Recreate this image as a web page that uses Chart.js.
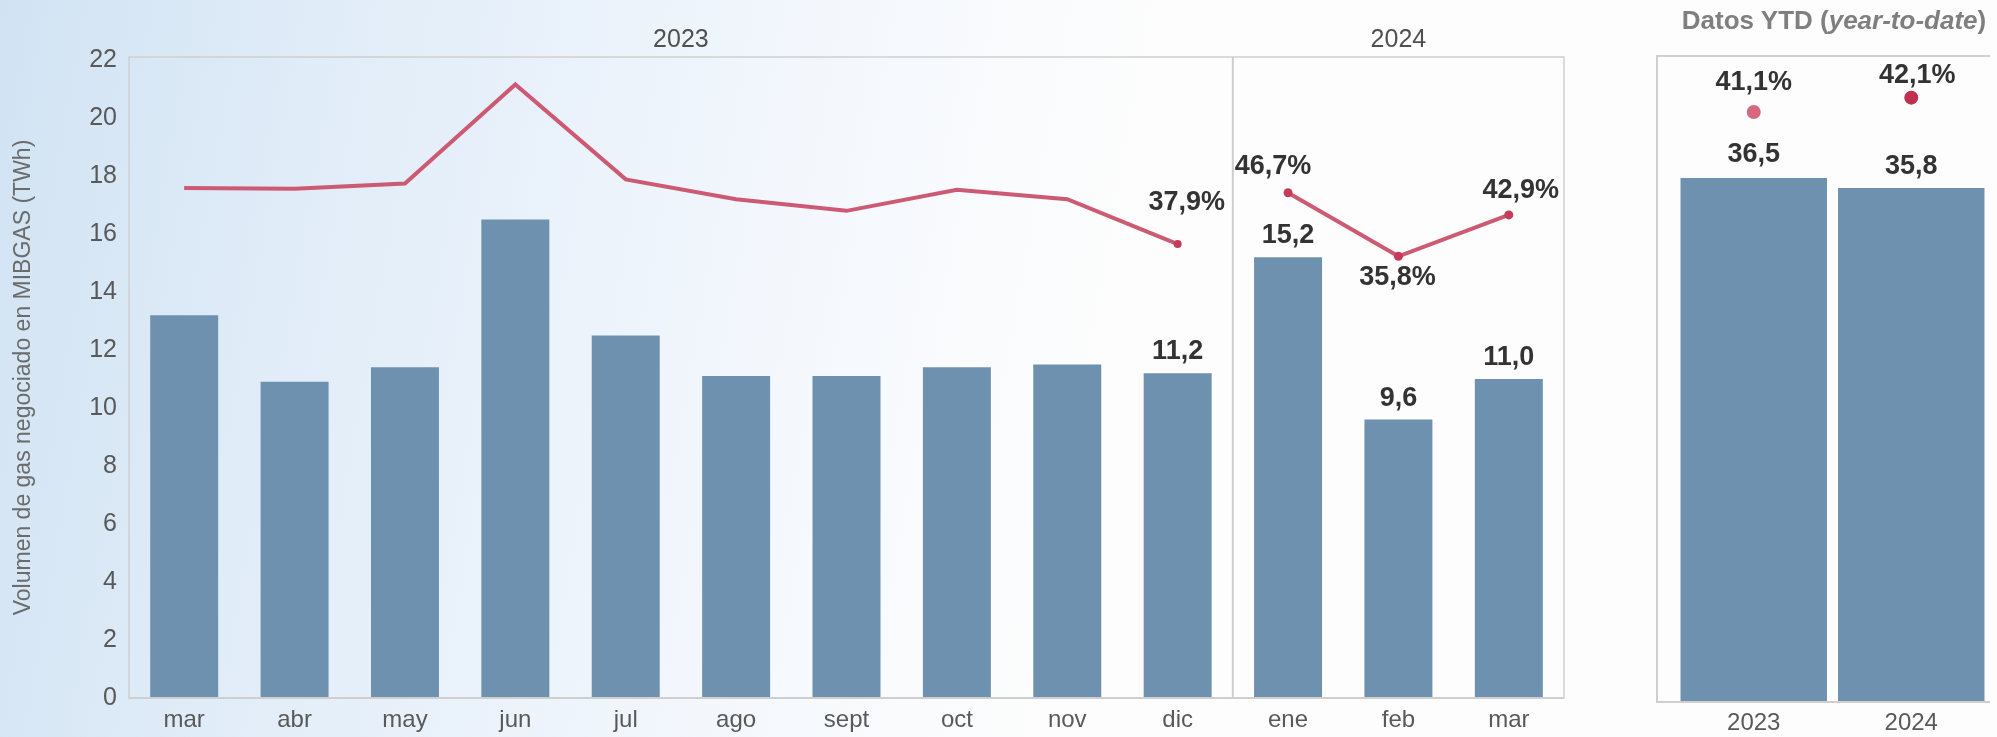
<!DOCTYPE html>
<html lang="es">
<head>
<meta charset="utf-8">
<title>Volumen de gas negociado en MIBGAS</title>
<script src="https://cdn.jsdelivr.net/npm/chart.js@4.4.1/dist/chart.umd.min.js"></script>
<style>
  html, body { margin: 0; padding: 0; }
  body {
    width: 1997px; height: 737px; overflow: hidden; position: relative;
    font-family: "Liberation Sans", Arial, sans-serif;
    background: linear-gradient(100deg, #d1e3f3 0%, #e0ecf8 15%, #ecf3fb 30%, #f6f9fd 43%, #fdfdfd 55%, #fdfdfd 100%);
  }
  #monthly { position: absolute; left: 0; top: 0; }
  #ytd { position: absolute; left: 1600px; top: 0; }
  #ytd-title {
    position: absolute; left: 1634px; top: 0; width: 400px;
    line-height: 40px; text-align: center;
    font-size: 26px; font-weight: bold; color: #7f7f7f;
  }
  #ytd-title i { font-weight: bold; }
</style>
</head>
<body>
<canvas id="monthly" width="1600" height="737"></canvas>
<canvas id="ytd" width="397" height="737"></canvas>
<div id="ytd-title">Datos YTD (<i>year-to-date</i>)</div>

<script>
// ---- data ----
const months     = ['mar', 'abr', 'may', 'jun', 'jul', 'ago', 'sept', 'oct', 'nov', 'dic', 'ene', 'feb', 'mar'];
const volume     = [13.2, 10.9, 11.4, 16.5, 12.5, 11.1, 11.1, 11.4, 11.5, 11.2, 15.2, 9.6, 11.0];
const share2023  = [47.5, 47.4, 48.3, 65.3, 49.0, 45.6, 43.6, 47.2, 45.6, 37.9, null, null, null];
const share2024  = [null, null, null, null, null, null, null, null, null, null, 46.7, 35.8, 42.9];
const yearHeads  = ['2023', '2024'];
const volumeTicks = [0, 2, 4, 6, 8, 10, 12, 14, 16, 18, 20, 22];

const ytdYears   = ['2023', '2024'];
const ytdVolume  = [36.5, 35.8];
const ytdShare   = [41.1, 42.1];

// months that carry data labels / markers, and first month of 2024
const labelledMonths = [9, 10, 11, 12];
const firstOf2024 = 10;

// ---- styles ----
const FONT = '"Liberation Sans", Arial, sans-serif';
const barColor = '#6f91b0';
const lineColor = '#cc5a73';
const pointColor = '#c63b5c';
const frameColor = '#cfcfcf';

const fmt = v => v.toFixed(1).replace('.', ',');

function valueLabels(specs) {
    return {
        id: 'valueLabels',
        afterDatasetsDraw(chart) {
            const ctx = chart.ctx;
            ctx.save();
            ctx.font = 'bold 27px ' + FONT;
            ctx.fillStyle = '#333333';
            ctx.textAlign = 'center';
            ctx.textBaseline = 'middle';
            specs.forEach(s => {
                const el = chart.getDatasetMeta(s.ds).data[s.i];
                const v = chart.data.datasets[s.ds].data[s.i];
                ctx.fillText(fmt(v) + (s.pct ? '%' : ''), el.x + s.dx, el.y + s.dy);
            });
            ctx.restore();
        }
    };
}

/* frame, year divider and year headers of the monthly chart */
const monthlyFrame = {
    id: 'monthlyFrame',
    afterDatasetsDraw(chart) {
        const { ctx, chartArea: a, scales: { x } } = chart;
        const split = (x.getPixelForTick(firstOf2024 - 1) + x.getPixelForTick(firstOf2024)) / 2;
        ctx.save();
        ctx.strokeStyle = frameColor;
        ctx.lineWidth = 1.5;
        ctx.strokeRect(a.left, a.top, a.right - a.left, a.bottom - a.top);
        ctx.lineWidth = 2;
        ctx.beginPath();
        ctx.moveTo(split, a.top);
        ctx.lineTo(split, a.bottom);
        ctx.moveTo(a.left, a.bottom);
        ctx.lineTo(a.right, a.bottom);
        ctx.stroke();
        ctx.font = '25px ' + FONT;
        ctx.fillStyle = '#505050';
        ctx.textAlign = 'center';
        ctx.textBaseline = 'middle';
        ctx.fillText(yearHeads[0], (a.left + split) / 2, 40);
        ctx.fillText(yearHeads[1], (split + a.right) / 2, 40);
        ctx.restore();
    }
};

const ytdFrame = {
    id: 'ytdFrame',
    afterDatasetsDraw(chart) {
        const { ctx, chartArea: a } = chart;
        const left = a.left - 18;
        ctx.save();
        ctx.strokeStyle = frameColor;
        ctx.lineWidth = 2;
        ctx.beginPath();
        ctx.moveTo(a.right, a.top);
        ctx.lineTo(left, a.top);
        ctx.lineTo(left, a.bottom);
        ctx.lineTo(a.right, a.bottom);
        ctx.stroke();
        ctx.restore();
    }
};

// ---- monthly chart ----
new Chart(document.getElementById('monthly'), {
    data: {
        labels: months,
        datasets: [
            {
                type: 'line',
                data: share2023,
                yAxisID: 'y2',
                borderColor: lineColor,
                borderWidth: 4,
                pointRadius: share2023.map((v, i) => labelledMonths.includes(i) ? 4 : 0),
                pointBackgroundColor: pointColor,
                pointBorderWidth: 0,
                order: 1,
            },
            {
                type: 'line',
                data: share2024,
                yAxisID: 'y2',
                borderColor: lineColor,
                borderWidth: 4,
                pointRadius: 4.5,
                pointBackgroundColor: pointColor,
                pointBorderWidth: 0,
                order: 1,
            },
            {
                type: 'bar',
                data: volume,
                yAxisID: 'y',
                backgroundColor: barColor,
                categoryPercentage: 1,
                barPercentage: 0.616,
                order: 2,
            },
        ],
    },
    options: {
        responsive: false,
        animation: false,
        layout: { padding: { top: 57, right: 36, left: 0, bottom: 0 } },
        plugins: { legend: { display: false }, tooltip: { enabled: false } },
        scales: {
            x: {
                grid: { display: false, drawTicks: false },
                border: { display: false },
                ticks: {
                    color: '#595959', font: { family: FONT, size: 24 },
                    padding: 8, autoSkip: false, maxRotation: 0,
                },
                afterFit: axis => { axis.height = 39; },
            },
            y: {
                min: 0, max: 22.1,
                grid: { display: false, drawTicks: false },
                border: { display: false },
                afterBuildTicks: axis => { axis.ticks = volumeTicks.map(v => ({ value: v })); },
                ticks: { color: '#595959', font: { family: FONT, size: 25 }, padding: 12 },
                title: {
                    display: true,
                    text: 'Volumen de gas negociado en MIBGAS (TWh)',
                    color: '#6b6b6b',
                    font: { family: FONT, size: 23 },
                    padding: { top: 10, bottom: 0 },
                },
                afterFit: axis => { axis.width = 129; },
            },
            y2: { display: false, min: -40, max: 70 },
        },
    },
    plugins: [
        monthlyFrame,
        valueLabels([
            { ds: 2, i: 9,  dx: 0, dy: -22 },
            { ds: 2, i: 10, dx: 0, dy: -22 },
            { ds: 2, i: 11, dx: 0, dy: -21 },
            { ds: 2, i: 12, dx: 0, dy: -21 },
            { ds: 0, i: 9,  dx: 9,   dy: -42, pct: true },
            { ds: 1, i: 10, dx: -15, dy: -26, pct: true },
            { ds: 1, i: 11, dx: -1,  dy: 21,  pct: true },
            { ds: 1, i: 12, dx: 12,  dy: -24, pct: true },
        ]),
    ],
});

// ---- YTD chart ----
new Chart(document.getElementById('ytd'), {
    data: {
        labels: ytdYears,
        datasets: [
            {
                type: 'line',
                data: ytdShare,
                showLine: false,
                pointRadius: 7,
                pointBorderWidth: 0,
                pointBackgroundColor: ['#d4697f', '#c0304f'],
                order: 1,
            },
            {
                type: 'bar',
                data: ytdVolume,
                backgroundColor: barColor,
                categoryPercentage: 1,
                barPercentage: 0.93,
                order: 2,
            },
        ],
    },
    options: {
        responsive: false,
        animation: false,
        layout: { padding: { top: 56, right: 0, left: 75, bottom: 0 } },
        plugins: { legend: { display: false }, tooltip: { enabled: false } },
        scales: {
            x: {
                grid: { display: false, drawTicks: false },
                border: { display: false },
                ticks: { color: '#595959', font: { family: FONT, size: 24 }, padding: 7, maxRotation: 0 },
                afterFit: axis => { axis.height = 35; },
            },
            y: { display: false, min: 0, max: 45 },
        },
    },
    plugins: [
        ytdFrame,
        valueLabels([
            { ds: 1, i: 0, dx: 0, dy: -23 },
            { ds: 1, i: 1, dx: 0, dy: -22 },
            { ds: 0, i: 0, dx: 0, dy: -29, pct: true },
            { ds: 0, i: 1, dx: 6, dy: -22, pct: true },
        ]),
    ],
});
</script>
</body>
</html>
